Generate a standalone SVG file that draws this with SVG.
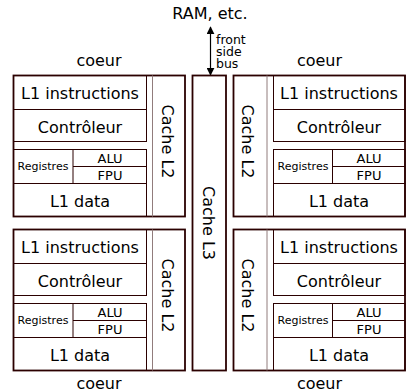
<svg xmlns="http://www.w3.org/2000/svg" width="412" height="390" viewBox="0 0 412 390">
<style>
text{font-family:"DejaVu Sans","Liberation Sans",sans-serif;fill:#000}
.big{font-size:16px;text-anchor:middle}
.sm{font-size:11px;text-anchor:middle}
.md{font-size:13px;text-anchor:middle}
.bus{font-size:12.5px}
.outer{fill:#fff;stroke:#2b0000;stroke-width:1.8}
.box{fill:none;stroke:#2b0000;stroke-width:1}
.lite{fill:none;stroke:#917c7c;stroke-width:1}
</style>
<defs>
<marker id="ah" viewBox="0 0 10 10" refX="9" refY="5" markerWidth="8" markerHeight="8" orient="auto-start-reverse" markerUnits="userSpaceOnUse">
<path d="M0,0 L10,5 L0,10 z" fill="#000"/>
</marker>
<g id="coreL">
<rect class="outer" x="13.5" y="75.5" width="171.5" height="141"/>
<line class="lite" x1="152.5" y1="75.5" x2="152.5" y2="216.5"/>
<rect class="box" x="13.5" y="75.5" width="133" height="34"/>
<rect class="box" x="13.5" y="109.5" width="133" height="32"/>
<rect class="box" x="13.5" y="149.5" width="133" height="34"/>
<line class="box" x1="73" y1="149.5" x2="73" y2="183.5"/>
<line class="box" x1="73" y1="166.5" x2="146.5" y2="166.5"/>
<rect class="box" x="13.5" y="183.5" width="133" height="33"/>
<text class="big" x="80" y="99">L1 instructions</text>
<text class="big" x="80" y="133">Contrôleur</text>
<text class="sm" x="43" y="170">Registres</text>
<text class="md" x="110" y="163">ALU</text>
<text class="md" x="110" y="180">FPU</text>
<text class="big" x="80" y="207">L1 data</text>
<text class="big" transform="translate(162,141.5) rotate(90)">Cache L2</text>
</g>
<g id="coreR">
<rect class="outer" x="233.5" y="75.5" width="171.5" height="141"/>
<line class="lite" x1="267" y1="75.5" x2="267" y2="216.5"/>
<rect class="box" x="273.5" y="75.5" width="131.5" height="34"/>
<rect class="box" x="273.5" y="109.5" width="131.5" height="32"/>
<rect class="box" x="273.5" y="149.5" width="131.5" height="34"/>
<line class="box" x1="332.5" y1="149.5" x2="332.5" y2="183.5"/>
<line class="box" x1="332.5" y1="166.5" x2="405" y2="166.5"/>
<rect class="box" x="273.5" y="183.5" width="131.5" height="33"/>
<text class="big" x="339" y="99">L1 instructions</text>
<text class="big" x="339" y="133">Contrôleur</text>
<text class="sm" x="303" y="170">Registres</text>
<text class="md" x="369" y="163">ALU</text>
<text class="md" x="369" y="180">FPU</text>
<text class="big" x="339" y="207">L1 data</text>
<text class="big" transform="translate(242,141.5) rotate(90)">Cache L2</text>
</g>
</defs>
<text class="big" x="210" y="19">RAM, etc.</text>
<text class="big" x="99" y="66">coeur</text>
<text class="big" x="319.5" y="66">coeur</text>
<text class="big" x="99" y="389">coeur</text>
<text class="big" x="319.5" y="389">coeur</text>
<g id="connectors">
<line x1="210.5" y1="27" x2="210.5" y2="75" stroke="#000" stroke-width="1.2" marker-start="url(#ah)" marker-end="url(#ah)"/>
<text class="bus" x="216" y="44">front</text>
<text class="bus" x="216" y="56">side</text>
<text class="bus" x="216" y="68">bus</text>
</g>
<g id="cache-l3">
<rect class="outer" x="192.5" y="75.5" width="33.5" height="295"/>
<text class="big" transform="translate(203,223) rotate(90)">Cache L3</text>
</g>
<g id="core-top-left"><use href="#coreL"/></g>
<g id="core-top-right"><use href="#coreR"/></g>
<g id="core-bottom-left"><use href="#coreL" transform="translate(0,154)"/></g>
<g id="core-bottom-right"><use href="#coreR" transform="translate(0,154)"/></g>
</svg>
